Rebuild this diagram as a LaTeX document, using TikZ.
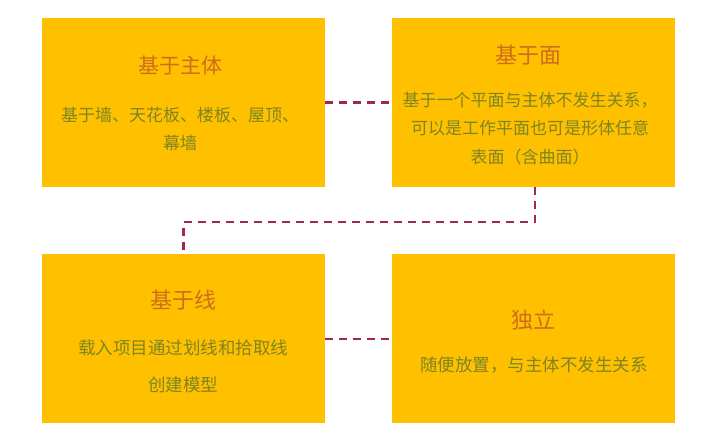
\documentclass[tikz,border=0pt]{standalone}
\usepackage{fontspec}
\setmainfont{Noto Sans CJK SC}
\definecolor{boxfill}{HTML}{FFC000}
\definecolor{titlecol}{HTML}{CC6E1C}
\definecolor{bodycol}{HTML}{7E8522}
\definecolor{linkcol}{HTML}{A0284A}
\tikzset{
  card/.style={fill=boxfill, draw=none, minimum width=283pt, minimum height=169pt, inner sep=0pt},
  cardtitle/.style={text=titlecol, inner sep=0pt, font=\fontsize{22}{26}\selectfont},
  cardbody/.style={text=bodycol, inner sep=0pt, align=center},
  link/.style={draw=linkcol, line width=2.4pt, dash pattern=on 8pt off 6pt}
}
\begin{document}
\begin{tikzpicture}[x=1pt,y=-1pt]
\useasboundingbox (0,0) rectangle (718,435);
\fill[white] (0,0) rectangle (718,435);
\node[card] (b1) at (183.5,102.5) {};
\node[card] (b2) at (533.5,102.5) {};
\node[card] (b3) at (183.5,339) {};
\node[card] (b4) at (533.5,339) {};

\node[cardtitle, font=\fontsize{21}{26}\selectfont] (t1) at (180,66) {基于主体};
\node[cardbody, font=\fontsize{17}{28}\selectfont] (d1) at (180,129) {基于墙、天花板、楼板、屋顶、\\幕墙};

\node[cardtitle] (t2) at (528,55) {基于面};
\node[cardbody, font=\fontsize{17}{28.5}\selectfont] (d2) at (530,128.5) {基于一个平面与主体不发生关系，\\可以是工作平面也可是形体任意\\表面（含曲面）};

\node[cardtitle] (t3) at (183,300) {基于线};
\node[cardbody, font=\fontsize{17.5}{37}\selectfont] (d3) at (183,366.5) {载入项目通过划线和拾取线\\创建模型};

\node[cardtitle] (t4) at (533,320) {独立};
\node[cardbody, font=\fontsize{17.5}{30}\selectfont] (d4) at (534,365) {随便放置，与主体不发生关系};

\draw[link] (b1.east) -- (b2.west);
\coordinate (turn) at (535,222);
\draw[link] (b2.south -| turn) -- (turn) -| (b3.north);
\draw[link] (b3.east) -- (b4.west);
\end{tikzpicture}
\end{document}
